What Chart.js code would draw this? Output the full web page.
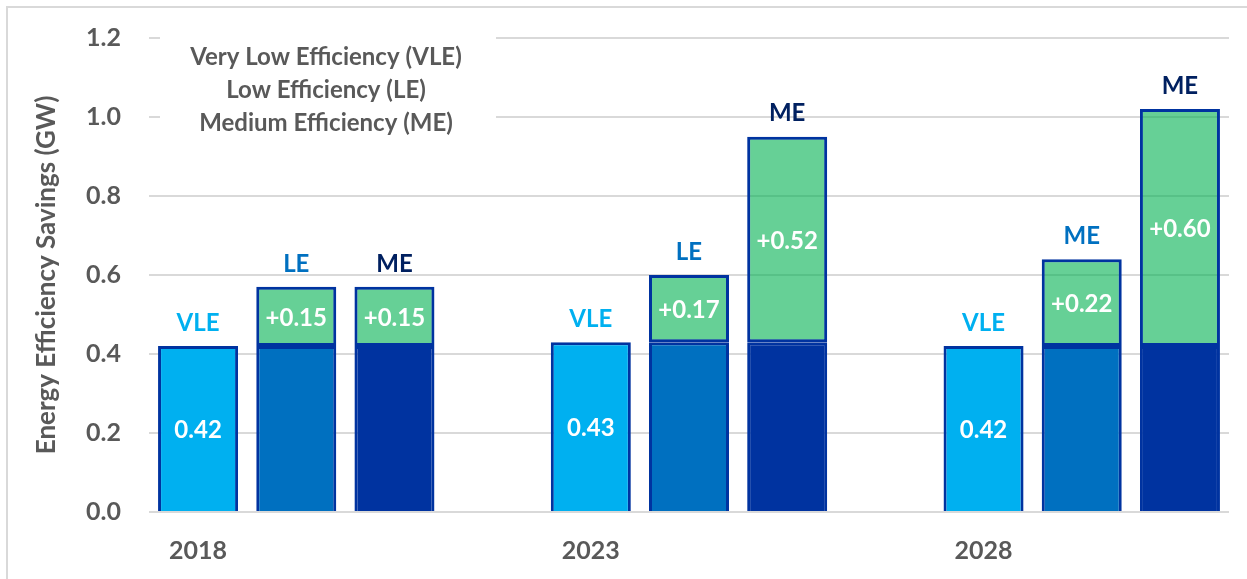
<!DOCTYPE html>
<html>
<head>
<meta charset="utf-8">
<script src="https://cdn.jsdelivr.net/npm/chart.js@4.4.1/dist/chart.umd.min.js"></script>
<style>
html, body { margin: 0; padding: 0; background: #fff; }
#frame { position: absolute; left: 6px; top: 6px; width: 1300px; height: 640px; border-top: 2px solid #d9d9d9; border-left: 2px solid #d9d9d9; }
#wrap { position: absolute; left: 0; top: 0; width: 1247px; height: 579px; }
</style>
</head>
<body>
<div id="frame"></div>
<div id="wrap"><canvas id="chart"></canvas></div>
<script>
const years = ['2018', '2023', '2028'];
const tiers = ['VLE', 'LE', 'ME'];
const baseSavings = [0.42, 0.43, 0.42];
const extraLE = [0.15, 0.17, 0.22];
const extraME = [0.15, 0.52, 0.60];
const barTags = [['VLE', 'LE', 'ME'], ['VLE', 'LE', 'ME'], ['VLE', 'ME', 'ME']];
const legendLines = ['Very Low Efficiency (VLE)', 'Low Efficiency (LE)', 'Medium Efficiency (ME)'];
const yTicks = [0, 0.2, 0.4, 0.6, 0.8, 1.0, 1.2];

const tierFill = { VLE: '#00B0F0', LE: '#0070C0', ME: '#0033A0' };
const tagColor = ['#00B0F0', '#0070C0', '#002060'];
const border = '#0033A0';
const grey = '#595959';
const fontFam = 'Lato, "Open Sans", sans-serif';

// 4 slots per year (3 bars + a gap), no gap after the last year
let slotLabels = [], baseData = [], extraData = [], baseColors = [], slotInfo = [];
years.forEach((yr, i) => {
    tiers.forEach((t, k) => {
        slotLabels.push(k == 0 ? yr : '');
        baseData.push(baseSavings[i]);
        extraData.push(k == 0 ? null : (k == 1 ? extraLE[i] : extraME[i]));
        baseColors.push(tierFill[t]);
        slotInfo.push({ year: i, tier: k });
    });
    if (i < years.length - 1) {
        slotLabels.push('');
        baseData.push(null);
        extraData.push(null);
        baseColors.push('#fff');
        slotInfo.push(null);
    }
});

const legendBox = {
    id: 'legendBox',
    beforeDatasetsDraw(chart) {
        const ctx = chart.ctx;
        ctx.save();
        ctx.fillStyle = '#fff';
        ctx.fillRect(160, 24, 336, 120);
        ctx.fillStyle = grey;
        ctx.font = 'bold 24px ' + fontFam;
        ctx.textAlign = 'center';
        ctx.textBaseline = 'middle';
        legendLines.forEach((s, i) => ctx.fillText(s, 326, 57 + i * 33));
        ctx.restore();
    }
};

const barText = {
    id: 'barText',
    afterDatasetsDraw(chart) {
        const ctx = chart.ctx;
        const m0 = chart.getDatasetMeta(0), m1 = chart.getDatasetMeta(1);
        ctx.save();
        ctx.textAlign = 'center';
        ctx.textBaseline = 'middle';
        ctx.font = 'bold 24px ' + fontFam;
        slotInfo.forEach((info, j) => {
            if (!info) return;
            const b = m0.data[j];
            const e = extraData[j] != null ? m1.data[j] : null;
            const top = e ? e.y : b.y;
            ctx.fillStyle = tagColor[info.tier];
            ctx.fillText(barTags[info.year][info.tier], b.x, top - 23);
            ctx.fillStyle = '#fff';
            if (info.tier == 0) {
                ctx.fillText(baseData[j].toFixed(2), b.x, (b.y + b.base) / 2 + 2);
            }
            if (e) {
                ctx.fillText('+' + extraData[j].toFixed(2), e.x, (e.y + e.base) / 2 + 2);
            }
        });
        ctx.restore();
    }
};

new Chart(document.getElementById('chart'), {
    type: 'bar',
    data: {
        labels: slotLabels,
        datasets: [
            {
                data: baseData,
                backgroundColor: baseColors,
                borderColor: border,
                borderWidth: 3,
                borderSkipped: 'start'
            },
            {
                data: extraData,
                backgroundColor: 'rgba(0,176,80,0.6)',
                borderColor: border,
                borderWidth: 3,
                borderSkipped: false
            }
        ]
    },
    options: {
        responsive: true,
        maintainAspectRatio: false,
        animation: false,
        layout: { padding: { left: 0, right: 18, top: 38, bottom: 0 } },
        datasets: { bar: { barPercentage: 0.815, categoryPercentage: 1 } },
        scales: {
            x: {
                stacked: true,
                grid: { display: false },
                border: { display: false },
                ticks: {
                    color: grey,
                    font: { family: fontFam, size: 25, weight: 'bold' },
                    padding: 16,
                    autoSkip: false,
                    maxRotation: 0
                },
                afterFit: s => { s.height = 67; }
            },
            y: {
                stacked: true,
                min: 0,
                max: 1.2,
                afterBuildTicks: s => { s.ticks = yTicks.map(v => ({ value: v })); },
                grid: { color: '#d9d9d9', lineWidth: 2, drawTicks: false },
                border: { display: false },
                ticks: {
                    color: grey,
                    font: { family: fontFam, size: 25, weight: 'bold' },
                    padding: 28,
                    callback: v => v.toFixed(1)
                },
                title: {
                    display: true,
                    text: 'Energy Efficiency Savings (GW)',
                    color: grey,
                    font: { family: fontFam, size: 26, weight: 'bold' },
                    padding: { top: 31, bottom: 0 }
                },
                afterFit: s => {
                    s.width = 149;
                    s.paddingTop = 0;
                    s.paddingBottom = 0;
                }
            }
        },
        plugins: {
            legend: { display: false },
            tooltip: { enabled: false }
        }
    },
    plugins: [legendBox, barText]
});
</script>
</body>
</html>
